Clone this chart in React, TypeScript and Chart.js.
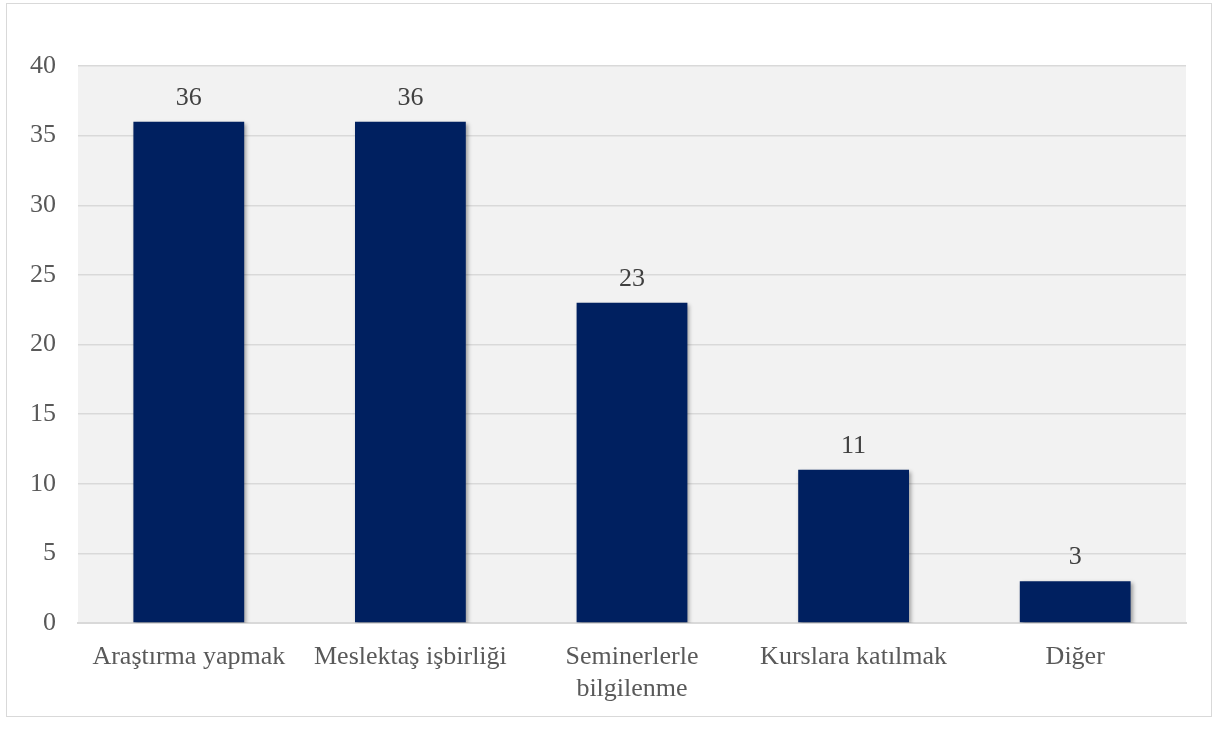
import React, { useEffect, useRef } from "react";
import { Chart, registerables } from "chart.js";

Chart.register(...registerables);

const categories: (string | string[])[] = [
  "Araştırma yapmak",
  "Meslektaş işbirliği",
  ["Seminerlerle", "bilgilenme"],
  "Kurslara katılmak",
  "Diğer",
];
const values: number[] = [36, 36, 23, 11, 3];
const yMin = 0;
const yMax = 40;
const yStep = 5;

const FONT = "'Liberation Serif', 'Times New Roman', serif";

const bgPlugin = {
  id: "bgPlugin",
  beforeDraw(chart: any) {
    const { ctx, chartArea } = chart;
    ctx.save();
    ctx.fillStyle = "#ffffff";
    ctx.fillRect(0, 0, chart.width, chart.height);
    ctx.strokeStyle = "#d9d9d9";
    ctx.lineWidth = 1;
    ctx.strokeRect(6.5, 3.5, 1205, 713);
    ctx.fillStyle = "#f2f2f2";
    ctx.fillRect(chartArea.left, chartArea.top, chartArea.right - chartArea.left, chartArea.bottom - chartArea.top);
    ctx.restore();
  },
  beforeDatasetsDraw(chart: any) {
    const ctx = chart.ctx;
    ctx.save();
    ctx.shadowColor = "rgba(0,0,0,0.35)";
    ctx.shadowBlur = 4;
    ctx.shadowOffsetX = 2;
    ctx.shadowOffsetY = 2;
  },
  afterDatasetsDraw(chart: any) {
    const ctx = chart.ctx;
    ctx.restore();
    ctx.save();
    ctx.font = `26px ${FONT}`;
    ctx.fillStyle = "#404040";
    ctx.textAlign = "center";
    ctx.textBaseline = "bottom";
    const meta = chart.getDatasetMeta(0);
    meta.data.forEach((bar: any, i: number) => {
      ctx.fillText(String(values[i]), bar.x, bar.y - 11);
    });
    ctx.restore();
  },
};

export default function App() {
  const ref = useRef<HTMLCanvasElement>(null);
  useEffect(() => {
    document.body.style.margin = "0";
    const chart = new Chart(ref.current!, {
      type: "bar",
      data: {
        labels: categories,
        datasets: [
          {
            data: values,
            backgroundColor: "#002060",
            barPercentage: 0.5,
            categoryPercentage: 1,
          },
        ],
      },
      options: {
        animation: false,
        responsive: false,
        layout: { padding: { top: 66, right: 31, left: 0, bottom: 0 } },
        plugins: { legend: { display: false }, tooltip: { enabled: false } },
        scales: {
          x: {
            afterFit: (s: any) => {
              s.height = 108;
            },
            grid: { display: false, drawTicks: false },
            border: { display: true, color: "#d9d9d9", width: 2 },
            ticks: {
              color: "#595959",
              font: { family: FONT, size: 26 },
              padding: 19,
              maxRotation: 0,
              autoSkip: false,
            },
          },
          y: {
            min: yMin,
            max: yMax,
            afterFit: (s: any) => {
              s.width = 78;
            },
            grid: { color: "#d9d9d9", lineWidth: 1.5, drawTicks: false },
            border: { display: false },
            ticks: {
              stepSize: yStep,
              color: "#595959",
              font: { family: FONT, size: 26 },
              padding: 22,
            },
          },
        },
      },
      plugins: [bgPlugin],
    });
    return () => chart.destroy();
  }, []);
  return (
    <div style={{ position: "absolute", left: 0, top: 0, width: 1217, height: 731 }}>
      <canvas ref={ref} width={1217} height={731} />
    </div>
  );
}
